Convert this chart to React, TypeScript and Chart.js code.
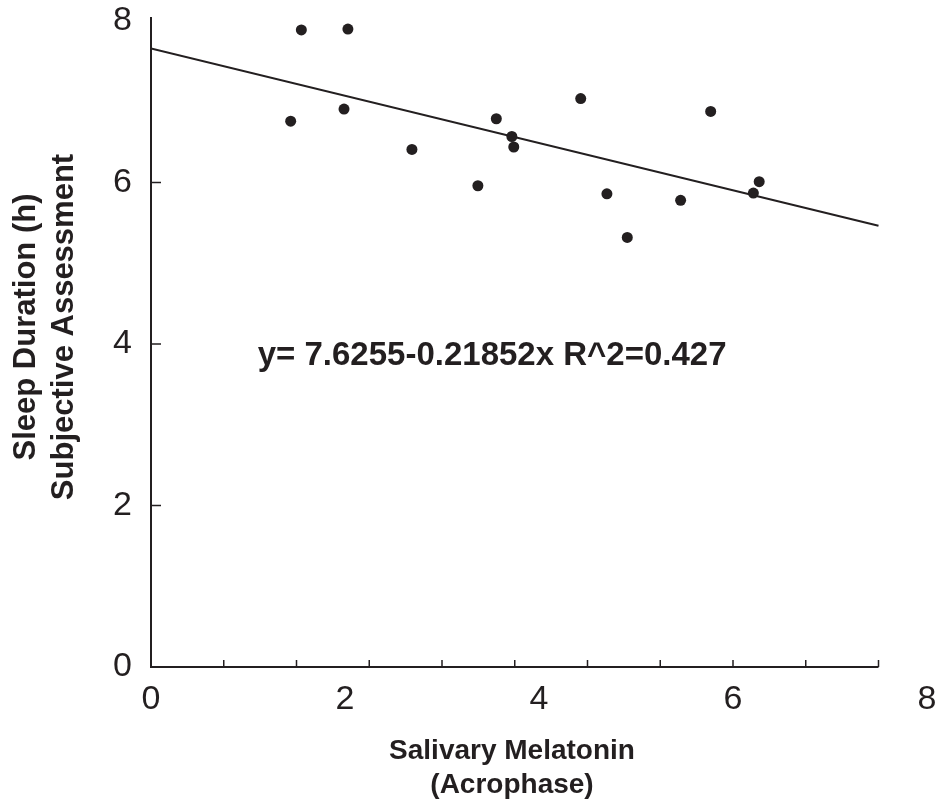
import { useEffect, useRef } from 'react';
import { Chart, registerables } from 'chart.js';

Chart.register(...registerables);

// ---- data ----
const acrophase = [1.44, 1.55, 2.03, 1.99, 2.69, 3.37, 3.56, 3.72, 3.74, 4.43, 4.70, 4.91, 5.46, 5.77, 6.21, 6.27];
const sleepHours = [6.76, 7.89, 7.90, 6.91, 6.41, 5.96, 6.79, 6.57, 6.44, 7.04, 5.86, 5.32, 5.78, 6.88, 5.87, 6.01];
const fitX = [0, 7.5];
const fitY = [7.66, 5.465];
const xTickLabels = [0, 2, 4, 6, 8];
const yTickLabels = [0, 2, 4, 6, 8];
const xTickMarks = [0.75, 1.5, 2.25, 3, 3.75, 4.5, 5.25, 6, 6.75, 7.5];
const yTickMarks = [2, 4, 6];
const xAxisEnd = 7.5;
const equationText = 'y= 7.6255-0.21852x R^2=0.427';
const xTitle = ['Salivary Melatonin', '(Acrophase)'];
const yTitle = ['Sleep Duration (h)', 'Subjective Assessment'];

const INK = '#231f20';
const TICK_FAMILY = "'Liberation Sans', Arial, sans-serif";
const BOLD_FAMILY = "'Liberation Sans', Arial, Helvetica, sans-serif";

const decorPlugin = {
  id: 'decor',
  afterDatasetsDraw(chart: any) {
    const { ctx } = chart;
    const xs = chart.scales.x;
    const ys = chart.scales.y;
    const x0 = xs.getPixelForValue(0);
    const y0 = ys.getPixelForValue(0);
    ctx.save();
    ctx.strokeStyle = INK;
    ctx.fillStyle = INK;
    // axes
    ctx.lineWidth = 2;
    ctx.beginPath();
    ctx.moveTo(x0, chart.chartArea.top);
    ctx.lineTo(x0, y0);
    ctx.lineTo(xs.getPixelForValue(xAxisEnd), y0);
    ctx.stroke();
    // tick marks (inward)
    ctx.lineWidth = 1.5;
    ctx.beginPath();
    xTickMarks.forEach((v) => {
      const px = xs.getPixelForValue(v);
      ctx.moveTo(px, y0);
      ctx.lineTo(px, y0 - 7);
    });
    yTickMarks.forEach((v) => {
      const py = ys.getPixelForValue(v);
      ctx.moveTo(x0, py);
      ctx.lineTo(x0 + 10, py);
    });
    ctx.stroke();
    // equation
    ctx.font = `bold 33px ${BOLD_FAMILY}`;
    ctx.textAlign = 'left';
    ctx.textBaseline = 'alphabetic';
    ctx.fillText(equationText, xs.getPixelForValue(1.1), ys.getPixelForValue(3.74));
    // x title
    ctx.font = `bold 28px ${BOLD_FAMILY}`;
    ctx.textAlign = 'center';
    const cx = 512;
    ctx.fillText(xTitle[0], cx, 759);
    ctx.fillText(xTitle[1], cx, 793);
    // y title
    ctx.font = `bold 31px ${BOLD_FAMILY}`;
    const cy = 327;
    [35, 73].forEach((bx, i) => {
      ctx.save();
      ctx.translate(bx, cy);
      ctx.rotate(-Math.PI / 2);
      ctx.fillText(yTitle[i], 0, 0);
      ctx.restore();
    });
    ctx.restore();
  },
};

export default function App() {
  const ref = useRef<HTMLCanvasElement | null>(null);

  useEffect(() => {
    document.body.style.margin = '0';
    const canvas = ref.current;
    if (!canvas) return;
    const chart = new Chart(canvas, {
      type: 'scatter',
      data: {
        datasets: [
          {
            type: 'scatter',
            data: acrophase.map((x, i) => ({ x, y: sleepHours[i] })),
            backgroundColor: INK,
            borderWidth: 0,
            pointRadius: 5.5,
            pointHoverRadius: 5.5,
          },
          {
            type: 'line',
            data: fitX.map((x, i) => ({ x, y: fitY[i] })),
            borderColor: INK,
            borderWidth: 2,
            pointRadius: 0,
            fill: false,
            tension: 0,
          } as any,
        ],
      },
      options: {
        animation: false,
        responsive: false,
        devicePixelRatio: 1,
        layout: { padding: { top: 17, right: 12, left: 0, bottom: 0 } },
        plugins: { legend: { display: false }, tooltip: { enabled: false } },
        scales: {
          x: {
            type: 'linear',
            min: 0,
            max: 8,
            afterBuildTicks: (s: any) => {
              s.ticks = xTickLabels.map((v) => ({ value: v }));
            },
            afterFit: (s: any) => {
              s.height = 140;
              s.paddingLeft = 0;
              s.paddingRight = 0;
            },
            grid: { display: false, drawTicks: false },
            border: { display: false },
            ticks: {
              color: INK,
              font: { family: TICK_FAMILY, size: 34 },
              padding: 12,
              maxRotation: 0,
              autoSkip: false,
              callback: (v: any) => String(v),
            },
          },
          y: {
            type: 'linear',
            min: 0,
            max: 8.05,
            afterBuildTicks: (s: any) => {
              s.ticks = yTickLabels.map((v) => ({ value: v }));
            },
            afterFit: (s: any) => {
              s.width = 151;
              s.paddingTop = 0;
              s.paddingBottom = 0;
            },
            grid: { display: false, drawTicks: false },
            border: { display: false },
            ticks: {
              color: INK,
              font: { family: TICK_FAMILY, size: 34 },
              padding: 19,
              autoSkip: false,
              callback: (v: any) => String(v),
            },
          },
        },
      },
      plugins: [decorPlugin],
    });
    return () => chart.destroy();
  }, []);

  return (
    <div style={{ width: 939, height: 807 }}>
      <canvas ref={ref} width={939} height={807} style={{ display: 'block' }} />
    </div>
  );
}
